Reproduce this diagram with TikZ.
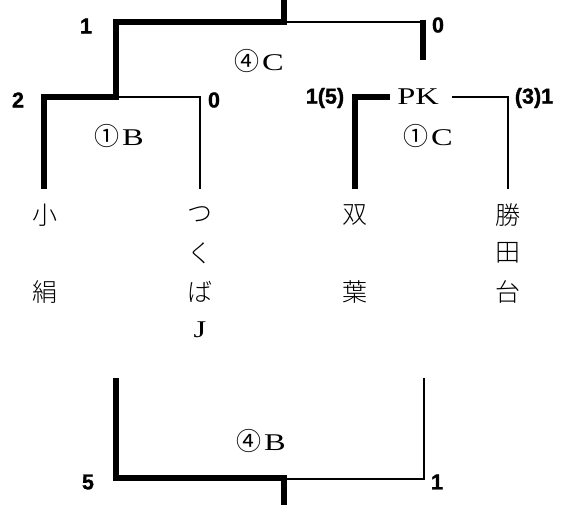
\documentclass[tikz,border=0pt]{standalone}
\usepackage{fontspec}
\setmainfont{Liberation Serif}
\newfontfamily\jpfont{Noto Sans CJK JP Light}
\newfontfamily\jpcirc{Noto Sans CJK JP}
\newfontfamily\numfont[FakeBold=1.4]{Liberation Sans Bold}
\newfontfamily\latwide[FakeStretch=1.35]{Liberation Serif}
\tikzset{
  thickln/.style={line width=5.5pt, line join=miter},
  thinln/.style={line width=2pt},
  score/.style={font=\numfont\fontsize{21.5}{25}\selectfont, inner sep=0pt},
  game/.style={font=\fontsize{24}{28}\selectfont, inner sep=0pt},
  team/.style={font=\jpfont\fontsize{25}{29}\selectfont, inner sep=0pt},
}
\newcommand{\gl}[2]{{\jpcirc\fontsize{25}{29}\selectfont #1}\kern3pt{\latwide #2}}
\begin{document}
\begin{tikzpicture}[x=1pt,y=-1pt]
\useasboundingbox (0,0) rectangle (562,504);
% ---- top bracket coordinates
\coordinate (topstem) at (284,-4);
\coordinate (topj) at (284,22);
\coordinate (tl) at (116,22);
\coordinate (tr) at (425,22);
\coordinate (trthA) at (423,19.5);
\coordinate (trthB) at (423,60);
% semifinal left
\coordinate (sl) at (116,97);
\coordinate (sll) at (44,97);
\coordinate (sllb) at (44,189);
\coordinate (slr) at (200,97);
\coordinate (slrb) at (200,189);
% semifinal right
\coordinate (srl) at (355,97);
\coordinate (srlb) at (355,189);
\coordinate (srr) at (508,97);
\coordinate (srrb) at (508,189);
\node[game, inner xsep=6pt] (pk) at (418,97) {\latwide PK};
\coordinate (pkw) at (390,97);
\coordinate (pke) at (452,97);
% bottom bracket
\coordinate (bl) at (116,378);
\coordinate (blc) at (116,478);
\coordinate (bj) at (284,478);
\coordinate (bstem) at (284,508);
\coordinate (bjt) at (284,479);
\coordinate (brc) at (424,479);
\coordinate (br) at (424,378);

% lines
\draw[thickln] (topstem) -- (topj) -- (tl) -- (sl) -- (sll) -- (sllb);
\draw[thinln] (topj) -- (tr);
\draw[thickln, line cap=butt] (trthA) -- (trthB);
\draw[thinln] (sl) -- (slr) -- (slrb);
\draw[thickln] (srlb) -- (srl) -- (pkw);
\draw[thinln] (pke) -- (srr) -- (srrb);
\draw[thickln] (bl) -- (blc) -- (bj) -- (bstem);
\draw[thinln] (bjt) -- (brc) -- (br);

% scores
\node[score] (s1) at (86,26) {1};
\node[score] (s0) at (438,25) {0};
\node[score] (s2) at (18,100) {2};
\node[score] (s0b) at (214,100) {0};
\node[score] (s15) at (325,98) {1(5)};
\node[score] (s31) at (534,98) {(3)1};
\node[score] (s5) at (88,482) {5};
\node[score] (s1b) at (437,482) {1};

% game labels
\node[game] (g4c) at (259,61) {\gl{④}{C}};
\node[game] (g1b) at (119,136) {\gl{①}{B}};
\node[game] (g1c) at (428,136) {\gl{①}{C}};
\node[game] (g4b) at (261,441) {\gl{④}{B}};

% teams
\node[team] (ko) at (45,215) {小};
\node[team] (kinu) at (45,292) {絹};
\node[team] (tsu) at (200,215) {つ};
\node[team] (ku) at (200,253) {く};
\node[team] (ba) at (200,292) {ば};
\node[team, font=\latwide\fontsize{24}{28}\selectfont] (jj) at (200,330) {J};
\node[team] (sou) at (355,215) {双};
\node[team] (you) at (355,292) {葉};
\node[team] (katsu) at (508,215) {勝};
\node[team] (ta) at (508,253) {田};
\node[team] (dai) at (508,292) {台};
\end{tikzpicture}
\end{document}
